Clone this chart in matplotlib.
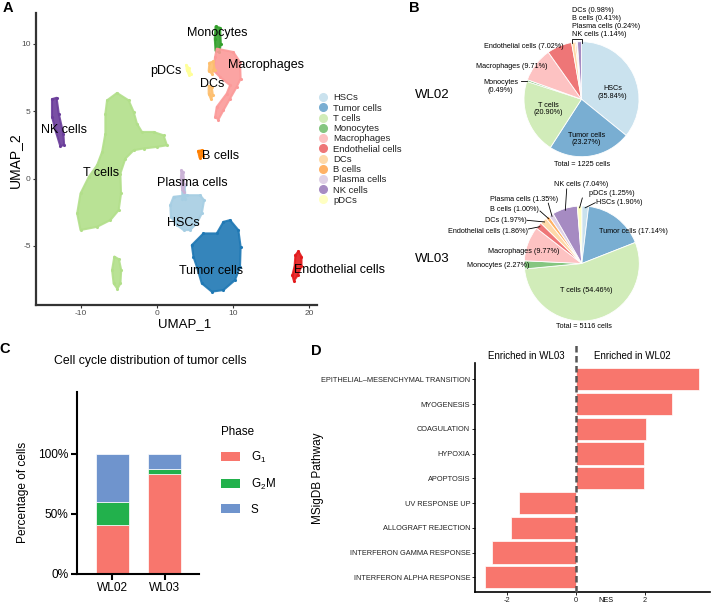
import matplotlib
matplotlib.use('Agg')
import matplotlib.pyplot as plt
from matplotlib.lines import Line2D
from matplotlib.patches import Patch
import matplotlib.colors as mcolors
import numpy as np

plt.rcParams['font.family'] = ['Liberation Sans', 'DejaVu Sans']
plt.rcParams['mathtext.fontset'] = 'custom'
plt.rcParams['mathtext.rm'] = 'Liberation Sans'
plt.rcParams['mathtext.it'] = 'Liberation Sans:italic'
plt.rcParams['axes.unicode_minus'] = False

# ---------------- data ----------------
cell_types = ['HSCs', 'Tumor cells', 'T cells', 'Monocytes', 'Macrophages',
              'Endothelial cells', 'DCs', 'B cells', 'Plasma cells', 'NK cells', 'pDCs']
cell_colors = ['#A6CEE3', '#1F78B4', '#B2DF8A', '#33A02C', '#FB9A99',
               '#E31A1C', '#FDBF6F', '#FF7F00', '#CAB2D6', '#6A3D9A', '#FFFF99']

# UMAP cluster outlines (UMAP_1, UMAP_2)
umap_hscs = [(2.18, -1.36), (3.93, -1.24), (5.68, -1.24), (6.20, -1.61), (5.89, -2.60),
             (5.24, -3.34), (4.36, -3.83), (3.49, -3.83), (2.62, -3.46), (1.83, -2.84), (1.75, -1.98)]
umap_hscs_stem = [(3.3, -0.5), (3.65, -0.5), (3.75, -1.5), (3.35, -1.5)]
umap_tumor = [(4.58, -4.95), (6.11, -4.08), (7.86, -4.08), (8.74, -3.22), (9.61, -3.09),
              (10.70, -3.83), (11.0, -5.07), (10.92, -6.56), (10.26, -7.55), (8.74, -8.29),
              (7.21, -8.41), (5.89, -7.79), (5.24, -6.56), (4.80, -5.82)]
umap_tcells = [(-6.56, 5.81), (-5.25, 6.36), (-3.72, 5.81), (-3.06, 4.95), (-2.63, 4.08),
               (-1.97, 3.46), (-0.44, 3.46), (0.87, 3.21), (1.31, 2.47), (0.0, 2.35),
               (-1.75, 2.23), (-3.06, 2.10), (-4.15, 1.48), (-4.81, 0.37), (-4.72, -1.11),
               (-5.03, -2.35), (-6.12, -3.09), (-7.87, -3.59), (-10.05, -3.83), (-10.49, -2.60),
               (-10.05, -1.11), (-8.96, 0.12), (-7.87, 0.99), (-7.21, 1.98), (-6.78, 3.34),
               (-6.78, 4.82)]
umap_tcells_strip = [(-5.6, -5.8), (-5.0, -6.0), (-4.7, -6.8), (-4.8, -7.8), (-5.2, -8.2),
                     (-5.7, -7.8), (-5.9, -6.8)]
umap_monocytes = [(7.7, 11.3), (8.3, 11.2), (8.4, 10.0), (8.2, 9.4), (7.7, 9.5), (7.6, 10.4)]
umap_macrophages = [(7.86, 9.65), (10.04, 9.40), (10.92, 8.66), (11.0, 7.42), (10.48, 6.80),
                    (9.61, 5.94), (8.74, 5.07), (8.08, 4.38), (7.64, 4.57), (7.86, 5.32),
                    (9.17, 6.31), (9.61, 6.93), (8.30, 7.54), (7.43, 8.04), (7.64, 9.03)]
umap_endothelial = [(18.6, -5.4), (19.0, -5.8), (19.0, -6.5), (18.5, -7.2), (18.0, -7.6),
                    (17.8, -7.2), (18.1, -6.5), (18.2, -5.7)]
umap_dcs_a = [(6.9, 8.6), (7.4, 8.7), (7.6, 8.1), (7.2, 7.8), (6.8, 8.0)]
umap_dcs_b = [(6.8, 6.9), (7.2, 6.8), (7.35, 6.2), (7.1, 5.9), (6.8, 6.3)]
umap_bcells = [(5.4, 2.05), (5.9, 2.1), (6.0, 1.7), (5.6, 1.55)]
umap_plasma = [(3.2, 0.6), (3.45, 0.5), (3.6, -0.4), (3.5, -1.0), (3.3, -0.8), (3.15, 0.0)]
umap_nk = [(-13.8, 5.9), (-13.2, 6.0), (-12.9, 4.8), (-12.3, 3.3), (-12.2, 2.5),
           (-12.7, 2.4), (-13.3, 3.5), (-13.8, 4.6)]
umap_pdcs = [(3.85, 8.45), (4.2, 8.2), (4.45, 7.8), (4.2, 7.7), (3.9, 8.1)]

umap_label_xy = [(3.5, -3.3), (7.1, -6.9), (-7.4, 0.4), (7.9, 10.8), (14.4, 8.4),
                 (24.0, -6.8), (7.3, 7.05), (8.3, 1.7), (4.7, -0.3), (-12.2, 3.6), (1.2, 8.0)]

# Pie data
wl02_types = cell_types[:10]
wl02_pct = [35.84, 23.27, 20.90, 0.49, 9.71, 7.02, 0.98, 0.41, 0.24, 1.14]
wl02_total = 1225
wl03_types = cell_types
wl03_pct = [1.90, 17.14, 54.46, 2.27, 9.77, 1.86, 1.97, 1.00, 1.35, 7.04, 1.25]
wl03_total = 5116

# Cell cycle
samples = ['WL02', 'WL03']
g1_pct = [40.5, 83.0]
g2m_pct = [19.5, 4.0]
s_pct = [40.0, 13.0]
phase_colors = ['#F8766D', '#22B14C', '#6F94CD']

# GSEA
pathways = ['EPITHELIAL\u2013MESENCHYMAL TRANSITION', 'MYOGENESIS', 'COAGULATION', 'HYPOXIA',
            'APOPTOSIS', 'UV RESPONSE UP', 'ALLOGRAFT REJECTION',
            'INTERFERON GAMMA RESPONSE', 'INTERFERON ALPHA RESPONSE']
nes = [3.57, 2.77, 2.02, 1.97, 1.97, -1.66, -1.88, -2.43, -2.64]

# ---------------- figure ----------------
W, H = 713, 607
fig = plt.figure(figsize=(W / 100, H / 100), dpi=100)


def rect(x0, y0, x1, y1):
    return [x0 / W, 1 - y1 / H, (x1 - x0) / W, (y1 - y0) / H]


def light(c, a=0.6):
    r = np.array(mcolors.to_rgb(c))
    return tuple(r * a + (1 - a))


def ftext(x, y, s, **kw):
    fig.text(x / W, 1 - y / H, s, **kw)


# ---------------- Panel A ----------------
axA = fig.add_axes(rect(36, 13, 316.7, 305))
clusters = [
    (umap_tcells, 2), (umap_tcells_strip, 2), (umap_nk, 9), (umap_monocytes, 3),
    (umap_macrophages, 4), (umap_dcs_a, 6), (umap_dcs_b, 6), (umap_pdcs, 10),
    (umap_hscs, 0), (umap_hscs_stem, 0), (umap_plasma, 8), (umap_bcells, 7),
    (umap_tumor, 1), (umap_endothelial, 5),
]
for pts, ci in clusters:
    xs = [p[0] for p in pts]
    ys = [p[1] for p in pts]
    col = cell_colors[ci]
    axA.fill(xs, ys, color=col, alpha=0.9, lw=1.5, ec=col, joinstyle='round', zorder=2)
    axA.scatter(xs, ys, s=5, color=col, lw=0, zorder=2)
axA.set_xlim(-15.9, 21.0)
axA.set_ylim(-9.4, 12.3)
axA.set_xticks([-10, 0, 10, 20])
axA.set_yticks([-5, 0, 5, 10])
for sp in ['top', 'right']:
    axA.spines[sp].set_visible(False)
for sp in ['left', 'bottom']:
    axA.spines[sp].set_linewidth(1.6)
    axA.spines[sp].set_color('#333333')
axA.tick_params(labelsize=6, labelcolor='#4D4D4D', color='#333333', length=2.5, width=0.8, pad=1.2)
for name, (lx, ly) in zip(cell_types, umap_label_xy):
    axA.text(lx, ly, name, fontsize=9, ha='center', va='center', color='black', zorder=5)
ftext(15, 160, 'UMAP_2', fontsize=10, rotation=90, ha='center', va='center')
ftext(185, 324.5, 'UMAP_1', fontsize=9.5, ha='center', va='center')
handlesA = [Line2D([0], [0], marker='o', ls='', markersize=5.5,
                   markerfacecolor=light(c), markeredgecolor=light(c)) for c in cell_colors]
legA = axA.legend(handlesA, cell_types, loc='upper left', bbox_to_anchor=(318 / W, 1 - 93.5 / H),
                  bbox_transform=fig.transFigure, frameon=False, fontsize=6.8, borderpad=0,
                  borderaxespad=0, handlelength=1.0, handletextpad=0.6, labelspacing=0.13)
for t in legA.get_texts():
    t.set_color('#222222')

# ---------------- Panel B ----------------
def make_pie(ax_rect, cx, cy, r_px, pct, types, total):
    ax = fig.add_axes(ax_rect)
    wedges, _ = ax.pie(pct, colors=[light(cell_colors[cell_types.index(t)]) for t in types],
                       startangle=90, counterclock=False, radius=1,
                       wedgeprops=dict(edgecolor='white', linewidth=0.6))
    x0, y0, x1, y1 = ax_rect[0] * W, (1 - ax_rect[1] - ax_rect[3]) * H, (ax_rect[0] + ax_rect[2]) * W, (1 - ax_rect[1]) * H
    ax.set_aspect('auto')
    ax.set_xlim((x0 - cx) / r_px, (x1 - cx) / r_px)
    ax.set_ylim((cy - y1) / r_px, (cy - y0) / r_px)
    ax.axis('off')
    return ax, wedges


def mid_pt(w, r=0.99):
    th = np.deg2rad((w.theta1 + w.theta2) / 2)
    return r * np.cos(th), r * np.sin(th)


fsB = 5.2
# WL02
axB1, w02 = make_pie(rect(440, 0, 713, 175), 581.5, 99.2, 57.5, wl02_pct, wl02_types, wl02_total)
lab = lambda i, pct: f"{wl02_types[i]}\n({pct[i]:.2f}%)"
axB1.text(0.536, 0.117, lab(0, wl02_pct), fontsize=fsB, ha='center', va='center', linespacing=1.15)
axB1.text(0.09, -0.692, lab(1, wl02_pct), fontsize=fsB, ha='center', va='center', linespacing=1.15)
axB1.text(-0.577, -0.170, lab(2, wl02_pct), fontsize=fsB, ha='center', va='center', linespacing=1.15)
axB1.text(-1.409, 0.226, lab(3, wl02_pct), fontsize=fsB, ha='center', va='center', linespacing=1.15)
mx, my = mid_pt(w02[3], 1.0)
axB1.plot([-1.057, mx], [my, my], color='black', lw=0.6)
axB1.text(-1.214, 0.565, f"{wl02_types[4]} ({wl02_pct[4]:.2f}%)", fontsize=fsB, ha='center', va='center')
axB1.text(-0.995, 0.913, f"{wl02_types[5]} ({wl02_pct[5]:.2f}%)", fontsize=fsB, ha='center', va='center')
for k, yy in zip(range(6, 10), [1.546, 1.407, 1.268, 1.129]):
    axB1.text(-0.16, yy, f"{wl02_types[k]} ({wl02_pct[k]:.2f}%)", fontsize=fsB, ha='left', va='center')
thL = np.deg2rad(w02[6].theta2)
thR = np.deg2rad(w02[9].theta1)
bxL, bxR = np.cos(thL) * 1.0, np.cos(thR) * 1.0 + 0.015
axB1.plot([bxL, bxL, bxR, bxR], [0.975, 1.045, 1.045, 0.985], color='black', lw=0.6)
axB1.text(0.009, -1.144, f"Total = {wl02_total} cells", fontsize=fsB, ha='center', va='center')
ftext(432.7, 95, 'WL02', fontsize=9.5, ha='center', va='center')

# WL03
axB2, w03 = make_pie(rect(440, 178, 713, 340), 581.8, 263.5, 57.5, wl03_pct, wl03_types, wl03_total)
lab3 = lambda i: f"{wl03_types[i]} ({wl03_pct[i]:.2f}%)"
# (index, text x, text y, line start x, line start y)
leaders = [(9, -0.014, 1.377, -0.263, 1.296), (10, 0.52, 1.221, 0.009, 1.139),
           (0, 0.647, 1.057, 0.235, 1.057), (8, -1.0, 1.117, -0.583, 1.049),
           (7, -1.174, 0.943, -0.727, 0.913), (6, -1.318, 0.751, -0.95, 0.751),
           (5, -1.626, 0.553, -0.93, 0.600)]
for i, tx, ty, lx, ly in leaders:
    axB2.text(tx, ty, lab3(i), fontsize=fsB, ha='center', va='center')
    ex, ey = mid_pt(w03[i], 0.97)
    axB2.plot([lx, ex], [ly, ey], color='black', lw=0.6)
axB2.text(-1.017, 0.205, lab3(4), fontsize=fsB, ha='center', va='center')
axB2.text(-1.452, -0.038, lab3(3), fontsize=fsB, ha='center', va='center')
axB2.text(0.896, 0.553, lab3(1), fontsize=fsB, ha='center', va='center')
axB2.text(0.085, -0.473, lab3(2), fontsize=fsB, ha='center', va='center')
axB2.text(0.038, -1.099, f"Total = {wl03_total} cells", fontsize=fsB, ha='center', va='center')
ftext(432, 259, 'WL03', fontsize=9.5, ha='center', va='center')

# ---------------- Panel C ----------------
axC = fig.add_axes(rect(77, 392, 199, 574))
xpos = np.arange(1, len(samples) + 1)
bw = 0.64
axC.bar(xpos, g1_pct, width=bw, color=phase_colors[0], edgecolor='white', linewidth=0.5)
axC.bar(xpos, g2m_pct, width=bw, bottom=g1_pct, color=phase_colors[1], edgecolor='white', linewidth=0.5)
axC.bar(xpos, s_pct, width=bw, bottom=np.array(g1_pct) + np.array(g2m_pct),
        color=phase_colors[2], edgecolor='white', linewidth=0.5)
axC.set_xlim(0.32, 2.66)
axC.set_ylim(0, 151.3)
axC.set_yticks([0, 50, 100])
axC.set_yticklabels(['0%', '50%', '100%'])
axC.set_xticks(xpos)
axC.set_xticklabels(samples)
for sp in ['top', 'right']:
    axC.spines[sp].set_visible(False)
for sp in ['left', 'bottom']:
    axC.spines[sp].set_linewidth(1.5)
axC.tick_params(labelsize=8.6, length=4, width=1.5, pad=2)
ftext(150, 360.7, 'Cell cycle distribution of tumor cells', fontsize=8.8, ha='center', va='center')
ftext(22.7, 492, 'Percentage of cells', fontsize=8.6, rotation=90, ha='center', va='center')
handlesC = [Patch(facecolor=c, edgecolor='none') for c in phase_colors]
legC = axC.legend(handlesC, [r'$\mathregular{G_1}$', r'$\mathregular{G_2M}$', 'S'],
                  title='Phase', loc='upper left', bbox_to_anchor=(221 / W, 1 - 426 / H),
                  bbox_transform=fig.transFigure, frameon=False, fontsize=8.4, title_fontsize=8.4,
                  borderpad=0, borderaxespad=0, handlelength=1.6, handleheight=0.8,
                  handletextpad=0.95, labelspacing=1.02, alignment='left')

# ---------------- Panel D ----------------
axD = fig.add_axes(rect(475, 363, 710, 592))
ypos = np.arange(len(pathways))[::-1]
axD.barh(ypos, nes, height=0.9, color='#F8766D', edgecolor='white', linewidth=0.5)
axD.axvline(0, ymin=0, ymax=1.079, color='#555555', lw=1.8, ls=(0, (2.6, 1.4)), clip_on=False, zorder=4)
axD.set_xlim(-2.93, 3.88)
axD.set_ylim(-0.594, 8.659)
axD.set_yticks(ypos)
axD.set_yticklabels(pathways)
axD.set_xticks([-2, 0, 2])
for sp in ['top', 'right']:
    axD.spines[sp].set_visible(False)
for sp in ['left', 'bottom']:
    axD.spines[sp].set_linewidth(1.2)
axD.tick_params(labelsize=5.3, length=2, width=0.6, pad=1.5, labelcolor='#222222')
axD.text(-1.43, 8.95, 'Enriched in WL03', fontsize=7, ha='center', va='center')
axD.text(1.63, 8.95, 'Enriched in WL02', fontsize=7, ha='center', va='center')
ftext(606, 601, 'NES', fontsize=5.3, ha='center', va='center')
ftext(318, 478, 'MSigDB Pathway', fontsize=8.5, rotation=90, ha='center', va='center')

# ---------------- panel letters ----------------
for s, x, y in [('A', 7.5, 8.5), ('B', 414, 8.5), ('C', 4.5, 349), ('D', 316.5, 351)]:
    ftext(x, y, s, fontsize=10.5, fontweight='bold', ha='center', va='center')

fig.savefig('out.png', dpi=100)
